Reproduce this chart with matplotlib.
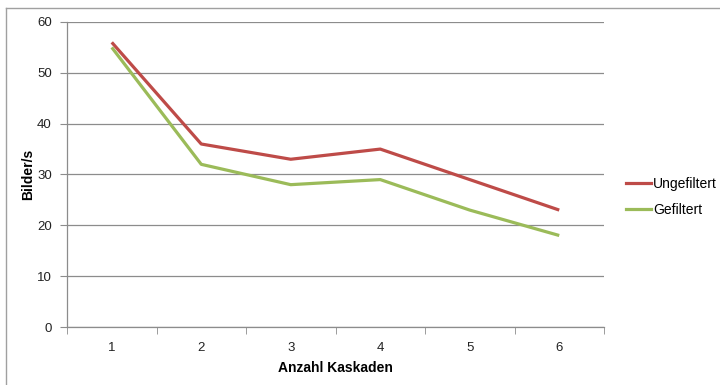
import matplotlib
matplotlib.use("Agg")
import matplotlib.pyplot as plt
from matplotlib.lines import Line2D

plt.rcParams['font.family'] = ['Liberation Sans', 'DejaVu Sans']

kaskaden = [1, 2, 3, 4, 5, 6]
ungefiltert = [56, 36, 33, 35, 29, 23]
gefiltert = [55, 32, 28, 29, 23, 18]
y_ticks = [0, 10, 20, 30, 40, 50, 60]

W, H = 720, 385
fig = plt.figure(figsize=(W / 100, H / 100), dpi=100)
ax = fig.add_axes([67 / W, 1 - 327 / H, (604 - 67) / W, (327 - 22) / H])

grid_col = '#8c8c8c'
red = '#be4b48'
green = '#9bbb59'

x = list(range(len(kaskaden)))
ax.plot(x, ungefiltert, color=red, lw=2.3, solid_capstyle='butt', zorder=3,
        label='Ungefiltert')
ax.plot(x, gefiltert, color=green, lw=2.3, solid_capstyle='butt', zorder=3,
        label='Gefiltert')

ax.set_xlim(-0.5, len(kaskaden) - 0.5)
ax.set_ylim(0, 60)
ax.set_yticks(y_ticks)
ax.set_xticks(x)
ax.set_xticklabels([str(k) for k in kaskaden])
ax.set_xticks([i - 0.5 for i in range(len(kaskaden) + 1)], minor=True)
ax.yaxis.grid(True, color=grid_col, lw=0.9)
ax.set_axisbelow(True)

for s in ['top', 'right']:
    ax.spines[s].set_visible(False)
for s in ['left', 'bottom']:
    ax.spines[s].set_color(grid_col)
    ax.spines[s].set_linewidth(0.9)

ax.tick_params(axis='y', length=5, color=grid_col, labelsize=9.5, pad=6,
               labelcolor='#222222')
ax.tick_params(axis='x', which='major', length=0, labelsize=9.5, pad=11,
               labelcolor='#222222')
ax.tick_params(axis='x', which='minor', length=5, color=grid_col)

ax.set_xlabel('Anzahl Kaskaden', fontsize=10, fontweight='bold', labelpad=5)
ax.set_ylabel('Bilder/s', fontsize=10, fontweight='bold', labelpad=1)

handles = [Line2D([], [], color=red, lw=2.3), Line2D([], [], color=green, lw=2.3)]
fig.legend(handles, ['Ungefiltert', 'Gefiltert'], loc='upper left',
           bbox_to_anchor=(626 / W, 1 - 177 / H), frameon=False, fontsize=10,
           handlelength=1.8, handletextpad=0.15, labelspacing=0.85,
           borderaxespad=0, borderpad=0)

# outer chart frame
fig.add_artist(Line2D([6 / W, 6 / W], [0, 1 - 8 / H], color='#a0a0a0', lw=1,
                      transform=fig.transFigure))
fig.add_artist(Line2D([6 / W, 1], [1 - 8 / H, 1 - 8 / H], color='#a0a0a0', lw=1,
                      transform=fig.transFigure))

fig.savefig('out.png', dpi=100)
